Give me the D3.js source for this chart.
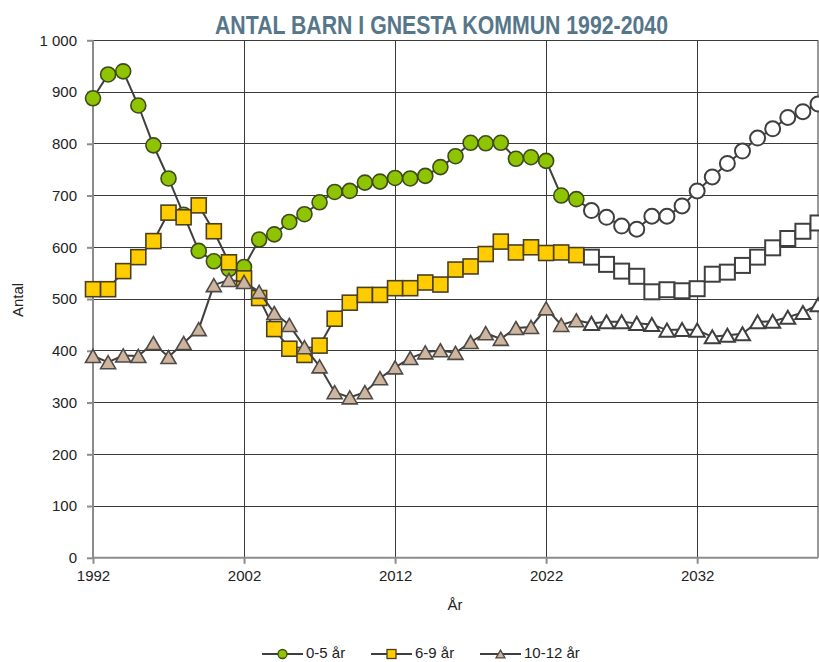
<!DOCTYPE html>
<html><head><meta charset="utf-8">
<script src="https://cdn.jsdelivr.net/npm/d3@7"></script>
<style>body{margin:0;background:#fff} svg{display:block}</style>
</head><body><svg id="c" width="819" height="662"></svg>
<script>
const years = [1992,1993,1994,1995,1996,1997,1998,1999,2000,2001,2002,2003,2004,2005,2006,2007,2008,2009,2010,2011,2012,2013,2014,2015,2016,2017,2018,2019,2020,2021,2022,2023,2024,2025,2026,2027,2028,2029,2030,2031,2032,2033,2034,2035,2036,2037,2038,2039,2040];
const age0_5 = [888,934,940,874,797,733,663,593,573,558,562,615,625,649,664,687,707,709,725,727,734,733,738,755,776,802,801,802,771,774,767,700,693,671,658,641,635,660,660,680,709,736,762,786,811,829,851,862,877];
const age6_9 = [519,519,554,581,612,667,658,681,631,571,540,502,442,404,392,410,462,493,508,508,521,521,532,528,557,563,587,611,590,600,589,590,585,581,567,554,544,514,518,516,520,548,552,565,581,599,617,631,647];
const age10_12 = [390,378,391,390,415,388,415,442,527,537,533,514,473,450,407,370,320,310,320,347,368,386,397,401,396,417,434,423,444,446,482,450,459,453,456,456,453,451,440,441,440,427,430,433,456,457,465,474,489];
const seriesNames = ["0-5 år","6-9 år","10-12 år"];
const yTicks = [0,100,200,300,400,500,600,700,800,900,1000];
const xTicks = [1992,2002,2012,2022,2032];
const lastObservedYear = 2024;
const titleText = "ANTAL BARN I GNESTA KOMMUN 1992-2040";

const svg = d3.select("#c");
const L = 93, R = 818, T = 40.3, B = 557.8;
const x = d3.scaleLinear().domain([1992, 2040]).range([L, R]);
const y = d3.scaleLinear().domain([0, 1000]).range([B, T]);
const font = "'Liberation Sans', Arial, sans-serif";

// gridlines
svg.append("g").selectAll("line").data(yTicks.filter(d => d > 0)).join("line")
  .attr("x1", L).attr("x2", R).attr("y1", d => y(d)).attr("y2", d => y(d))
  .attr("stroke", "#3a3a3a").attr("stroke-width", 1).attr("shape-rendering", "crispEdges");
svg.append("g").selectAll("line").data(xTicks.filter(d => d > 1992)).join("line")
  .attr("x1", d => x(d)).attr("x2", d => x(d)).attr("y1", T).attr("y2", B)
  .attr("stroke", "#3a3a3a").attr("stroke-width", 1).attr("shape-rendering", "crispEdges");
svg.append("line").attr("x1", R).attr("x2", R).attr("y1", T).attr("y2", B)
  .attr("stroke", "#555").attr("stroke-width", 1.2);

// axes
const yAxis = d3.axisLeft(y).tickValues(yTicks).tickSize(6).tickPadding(10)
  .tickFormat(d => d3.format(",")(d).replace(",", " "));
const gy = svg.append("g").attr("transform", `translate(${L},0)`).call(yAxis);
const xAxis = d3.axisBottom(x).tickValues(xTicks).tickSize(6).tickPadding(7).tickFormat(d3.format("d"));
const gx = svg.append("g").attr("transform", `translate(0,${B})`).call(xAxis);
[gy, gx].forEach(g => {
  g.select(".domain").attr("stroke", "#8c8c8c").attr("stroke-width", 2);
  g.selectAll(".tick line").attr("stroke", "#8c8c8c").attr("stroke-width", 2);
  g.selectAll("text").attr("font-family", font).attr("font-size", 15).attr("fill", "#222");
});
gy.select(".domain").attr("d", `M0,${B}V${T}`);
gx.select(".domain").attr("d", `M${L},0H${R}`);

// axis titles
svg.append("text").attr("x", 455).attr("y", 610).attr("text-anchor", "middle")
  .attr("font-family", font).attr("font-size", 15).attr("fill", "#222").text("År");
svg.append("text").attr("transform", "translate(23,300) rotate(-90)").attr("text-anchor", "middle")
  .attr("font-family", font).attr("font-size", 15).attr("fill", "#222").text("Antal");

// title
svg.append("text").attr("x", 441.5).attr("y", 34).attr("text-anchor", "middle")
  .attr("font-family", "'Liberation Sans Narrow', 'Liberation Sans', sans-serif")
  .attr("font-size", 26).attr("font-weight", "bold").attr("fill", "#56768a")
  .attr("textLength", 453).attr("lengthAdjust", "spacingAndGlyphs").text(titleText);

// markers
function marker(sel, shape, s) {
  if (shape === "circle") return sel.append("circle").attr("r", s / 2);
  if (shape === "square") return sel.append("rect").attr("x", -s / 2).attr("y", -s / 2).attr("width", s).attr("height", s);
  const h = s * 0.87;
  return sel.append("path").attr("d", `M0,${-h / 2}L${s / 2},${h / 2}L${-s / 2},${h / 2}Z`);
}

const series = [
  { name: seriesNames[0], values: age0_5, shape: "circle", fill: "#8fc400", stroke: "#3c4a1e", size: 15 },
  { name: seriesNames[1], values: age6_9, shape: "square", fill: "#ffcc00", stroke: "#4a4020", size: 15 },
  { name: seriesNames[2], values: age10_12, shape: "triangle", fill: "#cdb5a0", stroke: "#4f4a44", size: 15 }
];

const line = d3.line().x(d => x(d.year)).y(d => y(d.v));
series.forEach(s => {
  const pts = years.map((yr, i) => ({ year: yr, v: s.values[i] }));
  const g = svg.append("g");
  g.append("path").datum(pts).attr("d", line).attr("fill", "none")
    .attr("stroke", "#3f3f3f").attr("stroke-width", 2);
  pts.forEach(p => {
    const mg = g.append("g").attr("transform", `translate(${x(p.year)},${y(p.v)})`);
    const m = marker(mg, s.shape, s.size);
    if (p.year <= lastObservedYear) m.attr("fill", s.fill).attr("stroke", s.stroke).attr("stroke-width", 1.6);
    else m.attr("fill", "#fff").attr("stroke", "#3f3f3f").attr("stroke-width", 2);
  });
});

// legend
const legX = [262, 371, 480];
series.forEach((s, i) => {
  const g = svg.append("g").attr("transform", `translate(${legX[i]},654)`);
  g.append("line").attr("x1", 0).attr("x2", 41).attr("stroke", "#3f3f3f").attr("stroke-width", 2);
  const mg = g.append("g").attr("transform", "translate(20.5,0)");
  marker(mg, s.shape, 9).attr("fill", s.fill).attr("stroke", s.stroke).attr("stroke-width", 1.3);
  g.append("text").attr("x", 44).attr("y", 4).attr("font-family", font).attr("font-size", 15)
    .attr("fill", "#222").text(s.name);
});
</script>
</body></html>
